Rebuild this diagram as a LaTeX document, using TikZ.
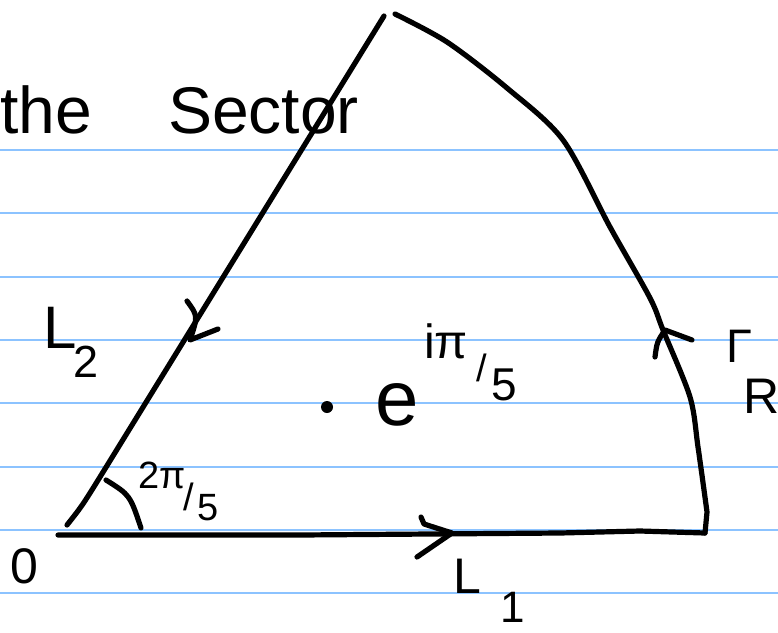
\documentclass[tikz,border=0pt]{standalone}
\usepackage{fontspec}
\setmainfont{Liberation Sans}
\definecolor{ruleblue}{RGB}{140,195,255}
\tikzset{
  ruling/.style={draw=ruleblue, line width=2pt},
  ink/.style={draw=black, line width=5.2pt, line cap=round, line join=round},
  hw/.style={inner sep=0pt, outer sep=0pt, anchor=base west, text=black},
}
\newcommand{\fs}[1]{\fontsize{#1}{#1}\selectfont}
\begin{document}
\begin{tikzpicture}[x=1pt,y=-1pt]
\useasboundingbox (0,0) rectangle (778,632);
\fill[white] (0,0) rectangle (778,632);
% ruled paper
\foreach \yy in {150,213.3,276.7,340,403.3,466.7,530,593.3}
  \draw[ruling] (0,\yy) -- (778,\yy);

% corner points
\coordinate (O) at (67,525);
\coordinate (Lbend) at (100,477);
\coordinate (Top) at (384,16);
\coordinate (ArcStart) at (395,14);
\coordinate (Base) at (58,535);
\coordinate (Corner) at (705,533);

% L2
\draw[ink] (O) .. controls (82,506) .. (Lbend) -- (Top);
% L1
\draw[ink] (Base) -- (300,535) -- (560,533) -- (640,531) -- (Corner);
% Gamma_R
\draw[ink] plot[smooth, tension=0.5] coordinates {(ArcStart) (447,42) (507,88) (563,140) (610,227) (650,298) (663,330) (690,397) (698,447) (707,512)} -- (Corner);

% direction marks
\draw[ink] (421,517) -- (424,524) -- (452,533) -- (417,557);
\draw[ink] (187,301) .. controls (198,316) .. (190,340) -- (218,329);
\draw[ink] (655,357) .. controls (657,342) .. (665,330) -- (692,340);
% angle arc
\draw[ink] (106,480) .. controls (130,495) .. (141,528);
% point
\fill (327,407) circle (6pt);

% labels
\node[hw, font=\fs{66}] (the) at (0,133) {the};
\node[hw, font=\fs{66}] (sector) at (168,133) {Sector};

\node[hw, font=\fs{60}] (L2L) at (43,348) {L};
\node[hw, font=\fs{45}] (L2s) at (73,377) {2};

\node[hw, font=\fs{50}] (orig) at (10,583) {0};

\node[hw, font=\fs{38}] (ang1) at (138,488) {2π};
\node[hw, font=\fs{38}] (ang2) at (183,510) {/};
\node[hw, font=\fs{38}] (ang3) at (197,520) {5};

\node[hw, font=\fs{78}] (e) at (375,425) {e};
\node[hw, font=\fs{48}] (eip) at (424,358) {iπ};
\node[hw, font=\fs{38}] (esl) at (476,381) {/};
\node[hw, font=\fs{46}] (e5) at (491,400) {5};

\node[hw, font=\fs{47}] (Gam) at (726,362) {Γ};
\node[hw, font=\fs{50}] (GamR) at (743,413) {R};

\node[hw, font=\fs{50}] (L1L) at (453,593) {L};
\node[hw, font=\fs{44}] (L1s) at (500,622) {1};
\end{tikzpicture}
\end{document}
